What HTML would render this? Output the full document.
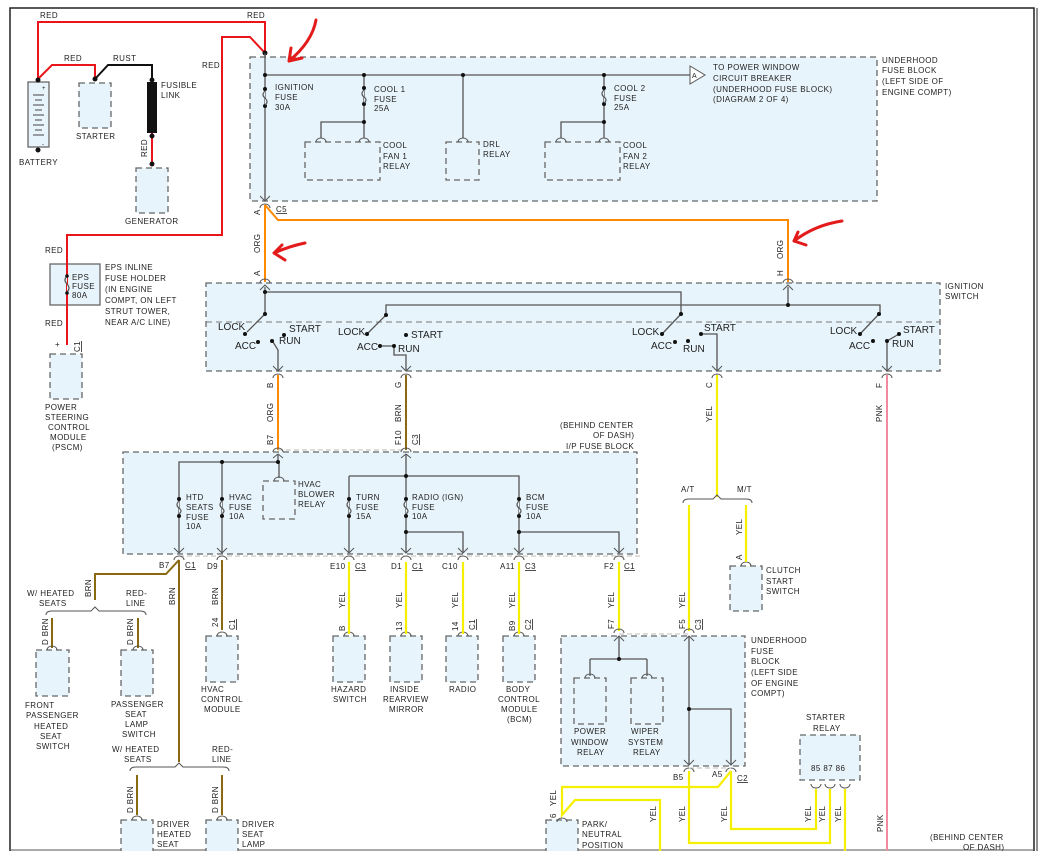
<!DOCTYPE html>
<html><head><meta charset="utf-8"><style>
html,body{margin:0;padding:0;background:#fff;}
svg{display:block;font-family:"Liberation Sans",sans-serif;}
text{font-size:8px;fill:#222;letter-spacing:0.4px;}
.sw{font-size:10px;letter-spacing:0;}
.box{fill:#e8f4fb;stroke:#666;stroke-width:1.3;stroke-dasharray:6,4;}
.g{stroke:#555;stroke-width:1.3;fill:none;}
.r{stroke:#e8161b;stroke-width:2;fill:none;}
.o{stroke:#ff8a00;stroke-width:2;fill:none;}
.y{stroke:#f6f000;stroke-width:2.2;fill:none;}
.b{stroke:#8a6a10;stroke-width:2;fill:none;}
.p{stroke:#f08aa0;stroke-width:2;fill:none;}
.k{stroke:#111;stroke-width:2;fill:none;}
.d{fill:#111;}
.c{stroke:#555;stroke-width:1;fill:none;}
.ha{stroke:#e31b1b;stroke-width:3;fill:none;stroke-linecap:round;}
</style></head><body>
<svg width="1041" height="851" viewBox="0 0 1041 851" xmlns="http://www.w3.org/2000/svg">
<rect x="0" y="0" width="1041" height="851" fill="#fff"/>
<path d="M10 851 V8 H1034 V851" stroke="#222" stroke-width="1.5" fill="none"/>
<line x1="1037" y1="8" x2="1037" y2="851" stroke="#222" stroke-width="1"/>
<line x1="10" y1="850" x2="1034" y2="850" stroke="#555" stroke-width="1"/>

<!-- boxes -->
<rect class="box" x="250" y="57" width="627" height="144"/>
<rect class="box" x="206" y="283" width="734" height="88"/>
<rect class="box" x="123" y="452" width="514" height="102"/>
<rect class="box" x="561" y="636" width="184" height="130"/>
<rect x="50" y="264" width="50" height="41" fill="#e8f4fb" stroke="#666" stroke-width="1.3"/>
<rect class="box" x="28" y="82" width="21" height="65" style="stroke-dasharray:none"/>
<rect class="box" x="79" y="83" width="32" height="45"/>
<rect class="box" x="136" y="168" width="32" height="45"/>
<rect class="box" x="50" y="354" width="32" height="45"/>
<rect class="box" x="305" y="142" width="75" height="38"/>
<rect class="box" x="446" y="142" width="33" height="38"/>
<rect class="box" x="545" y="142" width="75" height="38"/>
<rect class="box" x="263" y="481" width="32" height="38"/>
<rect class="box" x="36" y="650" width="33" height="46"/>
<rect class="box" x="121" y="650" width="32" height="46"/>
<rect class="box" x="206" y="636" width="32" height="46"/>
<rect class="box" x="333" y="636" width="32" height="46"/>
<rect class="box" x="390" y="636" width="32" height="46"/>
<rect class="box" x="446" y="636" width="32" height="46"/>
<rect class="box" x="503" y="636" width="32" height="46"/>
<rect class="box" x="730" y="566" width="32" height="45"/>
<rect class="box" x="574" y="678" width="32" height="46"/>
<rect class="box" x="631" y="678" width="32" height="46"/>
<rect class="box" x="800" y="735" width="60" height="45"/>
<rect class="box" x="546" y="820" width="32" height="40"/>
<rect class="box" x="121" y="820" width="32" height="40"/>
<rect class="box" x="206" y="820" width="32" height="40"/>

<!-- battery cells -->
<g stroke="#444" stroke-width="1">
<line x1="33" y1="95" x2="44" y2="95"/><line x1="35" y1="100" x2="42" y2="100"/><line x1="33" y1="105" x2="44" y2="105"/><line x1="35" y1="110" x2="42" y2="110"/><line x1="33" y1="115" x2="44" y2="115"/><line x1="35" y1="120" x2="42" y2="120"/><line x1="33" y1="125" x2="44" y2="125"/><line x1="35" y1="130" x2="42" y2="130"/><line x1="33" y1="135" x2="44" y2="135"/>
</g>
<text x="42" y="90" style="font-size:6px">+</text><text x="42" y="146" style="font-size:6px">-</text>

<!-- red wires -->
<path class="r" d="M38 79 V22 H265 V53"/>
<path class="r" d="M38 79 L52 65 H95 V79"/>
<path class="r" d="M265 53 L250 37 H222 V235 H67 V345"/>
<path class="r" d="M152 133 V164"/>
<path class="k" d="M95 79 L108 65 H152 V82"/>
<rect x="147" y="82" width="10" height="51" fill="#111"/>
<circle class="d" cx="38" cy="80" r="2.5"/><circle class="d" cx="38" cy="150" r="2.5"/>
<circle class="d" cx="95" cy="79" r="2.5"/><circle class="d" cx="152" cy="80" r="2.5"/><circle class="d" cx="152" cy="136" r="2.5"/><circle class="d" cx="152" cy="164" r="2.5"/>
<circle class="d" cx="265" cy="53" r="2.5"/>
<!-- EPS fuse -->
<path d="M67 276 q-4 4 0 8 q4 4 0 8" stroke="#555" stroke-width="1.2" fill="#e8f4fb"/>
<circle class="d" cx="67" cy="276" r="1.8"/><circle class="d" cx="67" cy="293" r="1.8"/>

<!-- underhood fuse block internals -->
<path class="g" d="M265 75 H690 M265 53 V201 M364 75 V138 M364 122 H321 V138 M463 75 V138 M604 75 V138 M604 122 H561 V138"/>
<path d="M690 66 L705 75 L690 84 Z" fill="#fff" stroke="#555" stroke-width="1"/>
<text x="692" y="78" style="font-size:7px">A</text>
<g fill="#111"><circle cx="265" cy="75" r="2"/><circle cx="364" cy="75" r="2"/><circle cx="463" cy="75" r="2"/><circle cx="604" cy="75" r="2"/><circle cx="364" cy="122" r="2"/><circle cx="604" cy="122" r="2"/>
<circle cx="265" cy="89" r="2"/><circle cx="265" cy="106" r="2"/><circle cx="364" cy="88" r="2"/><circle cx="364" cy="104" r="2"/><circle cx="604" cy="88" r="2"/><circle cx="604" cy="104" r="2"/></g>
<path d="M265 91 q-4 4 0 7 q4 4 0 7 M364 90 q-4 4 0 7 q4 3 0 6 M604 90 q-4 4 0 7 q4 3 0 6" stroke="#555" stroke-width="1.2" fill="#e8f4fb"/>
<path class="c" d="M316 142 a5 4 0 0 1 10 0 M359 142 a5 4 0 0 1 10 0 M458 142 a5 4 0 0 1 10 0 M556 142 a5 4 0 0 1 10 0 M599 142 a5 4 0 0 1 10 0"/>

<!-- C5 connector and orange -->
<path class="c" d="M260 196 L265 201 L270 196 M260 208 a5 4 0 0 1 10 0"/>
<path class="o" d="M265 205 V282 M265 205 L278 220 H788 V282"/>
<path class="c" d="M260 283 a5 4 0 0 1 10 0 M260 290 L265 285 L270 290 M783 283 a5 4 0 0 1 10 0 M783 290 L788 285 L793 290"/>

<!-- ignition switch internals -->
<path class="g" d="M265 287 V314 M265 292 H681 V314 M386 315 V305 H880 V314 M788 287 V305"/>
<path d="M206 322 H940" stroke="#777" stroke-width="1" stroke-dasharray:="" style="stroke-dasharray:6,4" fill="none"/>
<path class="g" d="M265 314 L247 332 M273 342 L278 350 V370 M386 315 L368 333 M380 346 H394 V355 H406 V370 M681 314 L663 333 M701 334 H717 V370 M879 314 L861 333 M899 334 L887 341 V370"/>
<g fill="#111">
<circle cx="265" cy="292" r="2"/><circle cx="788" cy="305" r="2"/>
<circle cx="265" cy="314" r="2"/><circle cx="245" cy="334" r="2"/><circle cx="258" cy="342" r="2"/><circle cx="272" cy="341" r="2"/><circle cx="284" cy="335" r="2"/>
<circle cx="386" cy="315" r="2"/><circle cx="367" cy="334" r="2"/><circle cx="380" cy="346" r="2"/><circle cx="394" cy="346" r="2"/><circle cx="406" cy="335" r="2"/>
<circle cx="681" cy="314" r="2"/><circle cx="662" cy="334" r="2"/><circle cx="675" cy="342" r="2"/><circle cx="688" cy="341" r="2"/><circle cx="701" cy="334" r="2"/>
<circle cx="879" cy="314" r="2"/><circle cx="860" cy="334" r="2"/><circle cx="873" cy="341" r="2"/><circle cx="887" cy="341" r="2"/><circle cx="899" cy="334" r="2"/>
</g>
<g class="sw">
<text class="sw" x="218" y="330">LOCK</text><text class="sw" x="235" y="349">ACC</text><text class="sw" x="289" y="332">START</text><text class="sw" x="279" y="344">RUN</text>
<text class="sw" x="338" y="335">LOCK</text><text class="sw" x="357" y="350">ACC</text><text class="sw" x="411" y="338">START</text><text class="sw" x="398" y="352">RUN</text>
<text class="sw" x="632" y="335">LOCK</text><text class="sw" x="651" y="349">ACC</text><text class="sw" x="704" y="331">START</text><text class="sw" x="683" y="352">RUN</text>
<text class="sw" x="830" y="334">LOCK</text><text class="sw" x="849" y="349">ACC</text><text class="sw" x="903" y="333">START</text><text class="sw" x="892" y="347">RUN</text>
</g>
<path class="c" d="M273 366 L278 371 L283 366 M273 378 a5 4 0 0 1 10 0 M401 366 L406 371 L411 366 M401 378 a5 4 0 0 1 10 0 M712 366 L717 371 L722 366 M712 378 a5 4 0 0 1 10 0 M882 366 L887 371 L892 366 M882 378 a5 4 0 0 1 10 0"/>

<!-- wires down from switch -->
<path class="o" d="M278 375 V450"/>
<path class="b" d="M406 375 V450"/>
<path class="y" d="M717 375 V497"/>
<path class="p" d="M887 375 V851"/>
<path d="M278 450 H406" stroke="#bbb" stroke-width="1" stroke-dasharray="5,3"/>
<path class="c" d="M273 452 a5 4 0 0 1 10 0 M273 458 L278 454 L283 458 M401 452 a5 4 0 0 1 10 0 M401 458 L406 454 L411 458"/>

<!-- I/P fuse block internals -->
<path class="g" d="M278 455 V462 H179 V552 M222 462 V552 M279 462 V478 M406 455 V552 M349 476 H406 M349 476 V552 M406 476 H519 V552 M406 532 H463 V552 M519 532 H619 V552"/>
<g fill="#111"><circle cx="278" cy="462" r="2"/><circle cx="222" cy="462" r="2"/><circle cx="406" cy="476" r="2"/><circle cx="406" cy="532" r="2"/><circle cx="519" cy="532" r="2"/>
<circle cx="179" cy="499" r="2"/><circle cx="179" cy="516" r="2"/><circle cx="222" cy="499" r="2"/><circle cx="222" cy="516" r="2"/><circle cx="349" cy="499" r="2"/><circle cx="349" cy="516" r="2"/><circle cx="406" cy="499" r="2"/><circle cx="406" cy="516" r="2"/><circle cx="519" cy="499" r="2"/><circle cx="519" cy="516" r="2"/></g>
<path d="M179 501 q-4 4 0 7 q4 3 0 6 M222 501 q-4 4 0 7 q4 3 0 6 M349 501 q-4 4 0 7 q4 3 0 6 M406 501 q-4 4 0 7 q4 3 0 6 M519 501 q-4 4 0 7 q4 3 0 6" stroke="#555" stroke-width="1.2" fill="#e8f4fb"/>
<path class="c" d="M274 481 a5 4 0 0 1 10 0"/>
<path d="M179 556 H640" stroke="#bbb" stroke-width="1" stroke-dasharray="5,3"/>
<g class="c">
<path d="M174 548 L179 553 L184 548 M174 560 a5 4 0 0 1 10 0 M217 548 L222 553 L227 548 M217 560 a5 4 0 0 1 10 0 M344 548 L349 553 L354 548 M344 560 a5 4 0 0 1 10 0 M401 548 L406 553 L411 548 M401 560 a5 4 0 0 1 10 0 M458 548 L463 553 L468 548 M458 560 a5 4 0 0 1 10 0 M514 548 L519 553 L524 548 M514 560 a5 4 0 0 1 10 0 M614 548 L619 553 L624 548 M614 560 a5 4 0 0 1 10 0"/>
</g>

<!-- brown wires left -->
<path class="b" d="M179 560 L166 574 H95 V600 M179 560 V762 M222 560 V630 M52 618 V648 M138 618 V648 M137 775 V815 M222 775 V815"/>
<path class="c" d="M46 615 Q46 611 52 611 H91 L95 607 L99 611 H140 Q146 611 146 615"/>
<path class="c" d="M130 771 Q130 767 136 767 H175 L179 763 L183 767 H223 Q229 767 229 771"/>
<path class="c" d="M47 650 a5 4 0 0 1 10 0 M133 650 a5 4 0 0 1 10 0 M217 636 a5 4 0 0 1 10 0 M132 820 a5 4 0 0 1 10 0 M217 820 a5 4 0 0 1 10 0 M344 636 a5 4 0 0 1 10 0 M401 636 a5 4 0 0 1 10 0 M458 636 a5 4 0 0 1 10 0 M514 636 a5 4 0 0 1 10 0 M741 566 a5 4 0 0 1 10 0"/>

<!-- yellow to components -->
<path class="y" d="M349 562 V634 M406 562 V634 M463 562 V634 M519 562 V634 M619 562 V631 M689 505 V631 M746 505 V562"/>
<path class="c" d="M683 503 Q683 499 689 499 H713 L717 495 L721 499 H746 Q752 499 752 503"/>
<path d="M619 634 H689" stroke="#bbb" stroke-width="1" stroke-dasharray="5,3"/>
<path class="c" d="M614 633 a5 4 0 0 1 10 0 M614 641 L619 636 L624 641 M684 633 a5 4 0 0 1 10 0 M684 641 L689 636 L694 641"/>

<!-- underhood 2 internals -->
<path class="g" d="M619 636 V659 M590 659 H647 M590 659 V676 M647 659 V676 M689 636 V764 M689 709 H731 V764"/>
<circle class="d" cx="619" cy="659" r="2"/><circle class="d" cx="689" cy="709" r="2"/>
<path class="c" d="M585 678 a5 4 0 0 1 10 0 M642 678 a5 4 0 0 1 10 0 M684 760 L689 765 L694 760 M726 760 L731 765 L736 760 M684 772 a5 4 0 0 1 10 0 M726 772 a5 4 0 0 1 10 0"/>
<path d="M689 768 H731" stroke="#bbb" stroke-width="1" stroke-dasharray="5,3"/>

<!-- bottom yellow -->
<path class="y" d="M731 771 L718 787 H562 V815 L575 800 H660 V851 M689 771 V843 H830 V789 M731 771 V829 H816 V789 M845 789 V851"/>
<path class="c" d="M557 822 a5 4 0 0 1 10 0 M811 784 a5 4 0 0 0 10 0 M825 784 a5 4 0 0 0 10 0 M840 784 a5 4 0 0 0 10 0"/>

<!-- labels -->
<text x="40" y="18">RED</text><text x="247" y="18">RED</text>
<text x="64" y="61">RED</text><text x="113" y="61">RUST</text><text x="202" y="68">RED</text>
<text x="161" y="88">FUSIBLE</text><text x="161" y="98">LINK</text>
<text x="76" y="139">STARTER</text><text x="19" y="165">BATTERY</text><text x="125" y="224">GENERATOR</text>
<text transform="translate(147,157) rotate(-90)">RED</text>
<text x="45" y="253">RED</text><text x="45" y="326">RED</text>
<text x="72" y="280">EPS</text><text x="72" y="289">FUSE</text><text x="72" y="298">80A</text>
<text x="105" y="270">EPS INLINE</text><text x="105" y="281">FUSE HOLDER</text><text x="105" y="292">(IN ENGINE</text><text x="105" y="303">COMPT, ON LEFT</text><text x="105" y="314">STRUT TOWER,</text><text x="105" y="325">NEAR A/C LINE)</text>
<text x="55" y="347">+</text><text transform="translate(80,352) rotate(-90)" text-decoration="underline">C1</text>
<text x="45" y="410">POWER</text><text x="45" y="420">STEERING</text><text x="48" y="430">CONTROL</text><text x="50" y="440">MODULE</text><text x="52" y="450">(PSCM)</text>

<text x="275" y="90">IGNITION</text><text x="275" y="100">FUSE</text><text x="275" y="110">30A</text>
<text x="374" y="92">COOL 1</text><text x="374" y="102">FUSE</text><text x="374" y="111">25A</text>
<text x="383" y="148">COOL</text><text x="383" y="159">FAN 1</text><text x="383" y="169">RELAY</text>
<text x="483" y="147">DRL</text><text x="483" y="157">RELAY</text>
<text x="614" y="91">COOL 2</text><text x="614" y="101">FUSE</text><text x="614" y="110">25A</text>
<text x="623" y="148">COOL</text><text x="623" y="159">FAN 2</text><text x="623" y="169">RELAY</text>
<text x="713" y="70">TO POWER WINDOW</text><text x="713" y="81">CIRCUIT BREAKER</text><text x="713" y="92">(UNDERHOOD FUSE BLOCK)</text><text x="713" y="102">(DIAGRAM 2 OF 4)</text>
<text x="882" y="63">UNDERHOOD</text><text x="882" y="73">FUSE BLOCK</text><text x="882" y="84">(LEFT SIDE OF</text><text x="882" y="95">ENGINE COMPT)</text>
<text x="276" y="212" text-decoration="underline">C5</text>
<text transform="translate(260,215) rotate(-90)">A</text>
<text transform="translate(260,253) rotate(-90)">ORG</text>
<text transform="translate(260,276) rotate(-90)">A</text>
<text transform="translate(783,259) rotate(-90)">ORG</text>
<text transform="translate(783,276) rotate(-90)">H</text>
<text x="945" y="289">IGNITION</text><text x="945" y="299">SWITCH</text>

<text transform="translate(273,388) rotate(-90)">B</text>
<text transform="translate(273,422) rotate(-90)">ORG</text>
<text transform="translate(273,445) rotate(-90)">B7</text>
<text transform="translate(401,388) rotate(-90)">G</text>
<text transform="translate(401,422) rotate(-90)">BRN</text>
<text transform="translate(401,445) rotate(-90)">F10</text>
<text transform="translate(418,445) rotate(-90)" text-decoration="underline">C3</text>
<text transform="translate(712,388) rotate(-90)">C</text>
<text transform="translate(712,422) rotate(-90)">YEL</text>
<text transform="translate(882,388) rotate(-90)">F</text>
<text transform="translate(882,422) rotate(-90)">PNK</text>
<text x="560" y="428">(BEHIND CENTER</text><text x="593" y="438">OF DASH)</text><text x="566" y="449">I/P FUSE BLOCK</text>

<text x="186" y="500">HTD</text><text x="186" y="510">SEATS</text><text x="186" y="520">FUSE</text><text x="186" y="529">10A</text>
<text x="229" y="500">HVAC</text><text x="229" y="510">FUSE</text><text x="229" y="519">10A</text>
<text x="298" y="487">HVAC</text><text x="298" y="497">BLOWER</text><text x="298" y="507">RELAY</text>
<text x="356" y="500">TURN</text><text x="356" y="510">FUSE</text><text x="356" y="519">15A</text>
<text x="412" y="500">RADIO (IGN)</text><text x="412" y="510">FUSE</text><text x="412" y="519">10A</text>
<text x="526" y="500">BCM</text><text x="526" y="510">FUSE</text><text x="526" y="519">10A</text>

<text x="159" y="568">B7</text><text x="185" y="568" text-decoration="underline">C1</text>
<text x="207" y="569">D9</text>
<text x="330" y="569">E10</text><text x="355" y="569" text-decoration="underline">C3</text>
<text x="391" y="569">D1</text><text x="412" y="569" text-decoration="underline">C1</text>
<text x="442" y="569">C10</text>
<text x="500" y="569">A11</text><text x="525" y="569" text-decoration="underline">C3</text>
<text x="604" y="569">F2</text><text x="624" y="569" text-decoration="underline">C1</text>

<text transform="translate(91,597) rotate(-90)">BRN</text>
<text transform="translate(175,605) rotate(-90)">BRN</text>
<text transform="translate(218,605) rotate(-90)">BRN</text>
<text x="27" y="596">W/ HEATED</text><text x="39" y="606">SEATS</text>
<text x="126" y="596">RED-</text><text x="126" y="606">LINE</text>
<text transform="translate(48,645) rotate(-90)">D BRN</text>
<text transform="translate(133,645) rotate(-90)">D BRN</text>
<text transform="translate(218,627) rotate(-90)">24</text>
<text transform="translate(235,630) rotate(-90)" text-decoration="underline">C1</text>
<text transform="translate(345,608) rotate(-90)">YEL</text><text transform="translate(345,631) rotate(-90)">B</text>
<text transform="translate(402,608) rotate(-90)">YEL</text><text transform="translate(402,631) rotate(-90)">13</text>
<text transform="translate(458,608) rotate(-90)">YEL</text><text transform="translate(458,631) rotate(-90)">14</text>
<text transform="translate(475,630) rotate(-90)" text-decoration="underline">C1</text>
<text transform="translate(515,608) rotate(-90)">YEL</text><text transform="translate(515,631) rotate(-90)">B9</text>
<text transform="translate(531,630) rotate(-90)" text-decoration="underline">C2</text>
<text transform="translate(614,608) rotate(-90)">YEL</text><text transform="translate(614,629) rotate(-90)">F7</text>
<text transform="translate(685,608) rotate(-90)">YEL</text><text transform="translate(685,629) rotate(-90)">F5</text>
<text transform="translate(701,630) rotate(-90)" text-decoration="underline">C3</text>
<text transform="translate(742,535) rotate(-90)">YEL</text><text transform="translate(742,560) rotate(-90)">A</text>
<text x="681" y="492">A/T</text><text x="737" y="492">M/T</text>
<text x="766" y="573">CLUTCH</text><text x="766" y="584">START</text><text x="766" y="594">SWITCH</text>

<text x="25" y="708">FRONT</text><text x="26" y="718">PASSENGER</text><text x="34" y="729">HEATED</text><text x="40" y="739">SEAT</text><text x="36" y="749">SWITCH</text>
<text x="111" y="707">PASSENGER</text><text x="125" y="717">SEAT</text><text x="125" y="727">LAMP</text><text x="122" y="737">SWITCH</text>
<text x="201" y="692">HVAC</text><text x="201" y="702">CONTROL</text><text x="204" y="712">MODULE</text>
<text x="331" y="692">HAZARD</text><text x="333" y="702">SWITCH</text>
<text x="390" y="692">INSIDE</text><text x="383" y="702">REARVIEW</text><text x="389" y="712">MIRROR</text>
<text x="449" y="692">RADIO</text>
<text x="506" y="692">BODY</text><text x="498" y="702">CONTROL</text><text x="501" y="712">MODULE</text><text x="507" y="722">(BCM)</text>
<text x="112" y="752">W/ HEATED</text><text x="124" y="762">SEATS</text>
<text x="212" y="752">RED-</text><text x="212" y="762">LINE</text>
<text transform="translate(133,813) rotate(-90)">D BRN</text>
<text transform="translate(218,813) rotate(-90)">D BRN</text>
<text x="157" y="827">DRIVER</text><text x="157" y="837">HEATED</text><text x="157" y="847">SEAT</text>
<text x="242" y="827">DRIVER</text><text x="242" y="837">SEAT</text><text x="242" y="847">LAMP</text>

<text x="751" y="643">UNDERHOOD</text><text x="751" y="654">FUSE</text><text x="751" y="664">BLOCK</text><text x="751" y="675">(LEFT SIDE</text><text x="751" y="686">OF ENGINE</text><text x="751" y="696">COMPT)</text>
<text x="574" y="734">POWER</text><text x="571" y="745">WINDOW</text><text x="577" y="755">RELAY</text>
<text x="631" y="734">WIPER</text><text x="628" y="745">SYSTEM</text><text x="633" y="755">RELAY</text>
<text x="806" y="720">STARTER</text><text x="813" y="731">RELAY</text>
<text x="811" y="771">85 87 86</text>
<text x="673" y="780">B5</text><text x="712" y="777">A5</text><text x="737" y="781" text-decoration="underline">C2</text>
<text transform="translate(556,806) rotate(-90)">YEL</text><text transform="translate(556,818) rotate(-90)">6</text>
<text transform="translate(656,822) rotate(-90)">YEL</text>
<text transform="translate(685,822) rotate(-90)">YEL</text>
<text transform="translate(727,822) rotate(-90)">YEL</text>
<text transform="translate(811,822) rotate(-90)">YEL</text>
<text transform="translate(825,822) rotate(-90)">YEL</text>
<text transform="translate(841,822) rotate(-90)">YEL</text>
<text transform="translate(883,832) rotate(-90)">PNK</text>
<text x="582" y="827">PARK/</text><text x="582" y="837">NEUTRAL</text><text x="582" y="848">POSITION</text>
<text x="930" y="840">(BEHIND CENTER</text><text x="963" y="850">OF DASH)</text>

<!-- hand-drawn red arrows -->
<path class="ha" d="M316 20 Q312 42 289 61 M289 61 L291 48 M289 61 L302 58"/>
<path class="ha" d="M305 243 Q290 246 274 253 M274 253 L282 245 M274 253 L285 260"/>
<path class="ha" d="M842 221 Q815 225 794 241 M794 241 L798 232 M794 241 L806 245"/>
</svg>
</body></html>
